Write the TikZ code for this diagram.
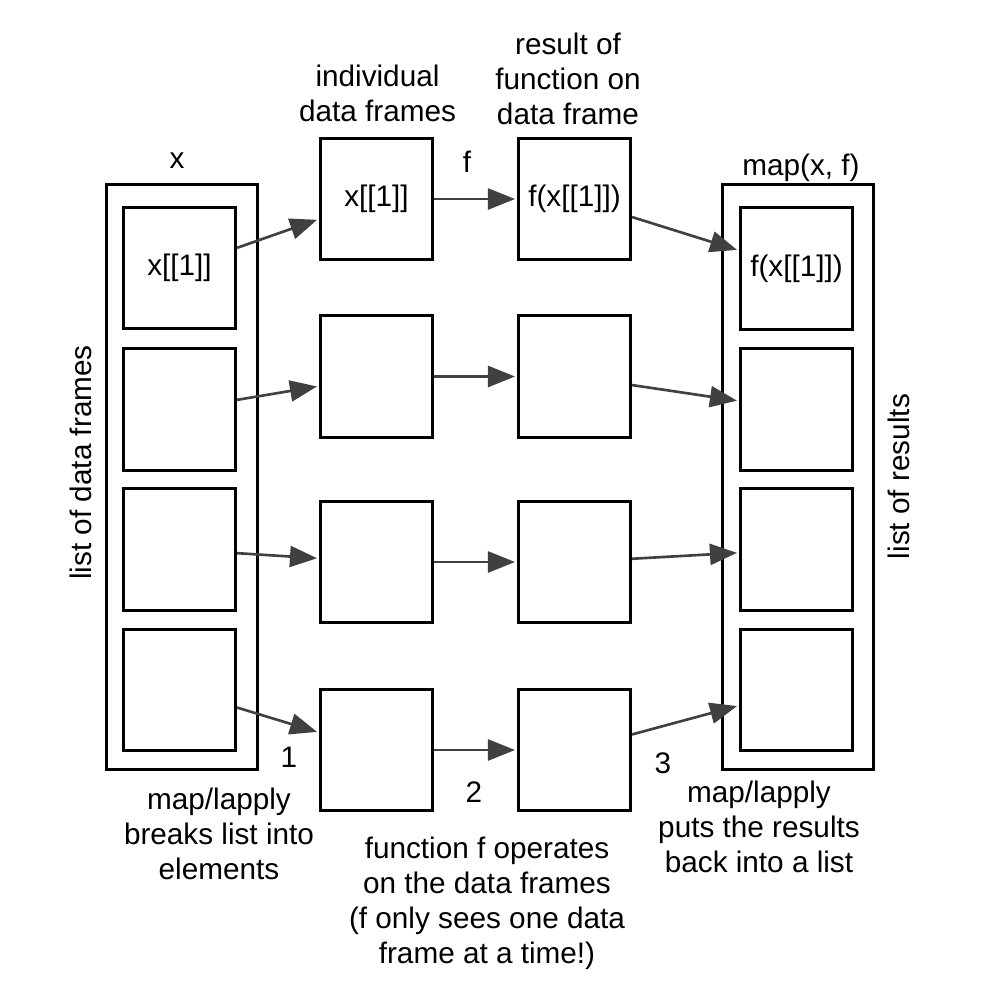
\documentclass[tikz,border=0pt]{standalone}
\usepackage{fontspec}
\setmainfont{Liberation Sans}
\usetikzlibrary{arrows.meta}

\definecolor{flowgray}{HTML}{404040}

\tikzset{
  frame/.style={draw=black, line width=0.85pt, inner sep=0pt, minimum width=1.12cm, minimum height=1.21cm},
  listframe/.style={draw=black, line width=0.85pt, inner sep=0pt, minimum width=1.51cm, minimum height=5.85cm},
  flow/.style={draw=flowgray, line width=0.75pt, -{Triangle[length=0.27cm,width=0.21cm]}, shorten >=0.02cm},
  note/.style={align=center, inner sep=0pt}
}

\begin{document}
\begin{tikzpicture}[x=0.01cm, y=-0.01cm, font=\fontsize{8.45}{9.96}\selectfont]
        \useasboundingbox (0,0) rectangle (1000,1008);

        % input list
        \node[listframe] (xlist) at (182,477) {};
        \node[frame] (x1) at (179.5,268) {x[[1]]};
        \node[frame] (x2) at (179.5,409.5) {};
        \node[frame] (x3) at (179.5,549.5) {};
        \node[frame] (x4) at (179.5,690) {};
        \node[anchor=base] (xname) at (177,168) {x};
        \node[rotate=90] (xside) at (81,462.5) {list of data frames};

        % single data frames
        \node[frame] (d1) at (376.5,199) {x[[1]]};
        \node[frame] (d2) at (376.5,376.5) {};
        \node[frame] (d3) at (376.5,562) {};
        \node[frame] (d4) at (376.5,750) {};
        \node[note, anchor=north] (dhead) at (377.5,64.3) {individual\\data frames};

        % results of f
        \node[frame] (f1) at (574.5,199) {f(x[[1]])};
        \node[frame] (f2) at (574.5,376.5) {};
        \node[frame] (f3) at (574.5,562) {};
        \node[frame] (f4) at (574.5,750) {};
        \node[note, anchor=north] (fhead) at (568,32.3) {result of\\function on\\data frame};
        \node[anchor=base] (fname) at (467,172) {f};

        % output list
        \node[listframe] (rlist) at (798,477) {};
        \node[frame] (r1) at (796.5,268.5) {f(x[[1]])};
        \node[frame] (r2) at (796.5,409.5) {};
        \node[frame] (r3) at (796.5,549.5) {};
        \node[frame] (r4) at (796.5,690) {};
        \node[anchor=base] (rname) at (801,175) {map(x, f)};
        \node[rotate=90] (rside) at (899,476.5) {list of results};

        % steps
        \draw[flow] (x1) -- (d1);
        \draw[flow] (x2) -- (d2);
        \draw[flow] (x3) -- (d3);
        \draw[flow] (x4) -- (d4);

        \draw[flow] (d1) -- (f1);
        \draw[flow] (d2) -- (f2);
        \draw[flow] (d3) -- (f3);
        \draw[flow] (d4) -- (f4);

        \draw[flow] (f1) -- (r1);
        \draw[flow] (f2) -- (r2);
        \draw[flow] (f3) -- (r3);
        \draw[flow] (f4) -- (r4);

        \node[anchor=base] (one) at (289,767) {1};
        \node[anchor=base] (two) at (474,802) {2};
        \node[anchor=base] (three) at (663,773) {3};

        \node[note, anchor=north] (split) at (219,787.3) {map/lapply\\breaks list into\\elements};
        \node[note, anchor=north] (apply) at (487,836.3) {function f operates\\on the data frames\\(f only sees one data\\frame at a time!)};
        \node[note, anchor=north] (join) at (759,780.3) {map/lapply\\puts the results\\back into a list};
    \end{tikzpicture}
\end{document}
